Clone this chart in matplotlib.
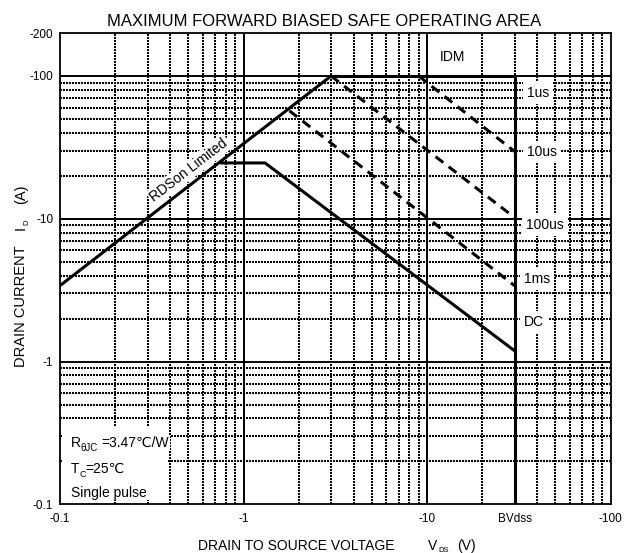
import numpy as np
import matplotlib.pyplot as plt
from matplotlib.patches import Rectangle
from matplotlib.ticker import NullLocator

plt.rcParams['font.family'] = ['Liberation Sans', 'DejaVu Sans']

# ---------------------------------------------------------------
# Curve data (V in volts, I in amps, plotted as magnitudes)
# ---------------------------------------------------------------
v_rds = [0.1, 3.0]
i_rds = [3.4, 100]

v_1us = [3.0, 30, 30]          # IDM limit then BVdss line
i_1us = [100, 100, 0.1]

v_10us = [9.0, 30]
i_10us = [100, 29.6]

v_100us = [3.0, 30]
i_100us = [100, 10.2]

v_1ms = [1.78, 30]
i_1ms = [57, 3.4]

v_dc = [0.76, 1.31, 30]
i_dc = [24.6, 24.6, 1.19]

x_ticks = [0.1, 1, 10, 30, 100]
x_labels = ['-0.1', '-1', '-10', 'BVdss', '-100']
y_ticks = [0.1, 1, 10, 100, 200]
y_labels = ['-0.1', '-1', '-10', '-100', '-200']

curve_labels = ['1us', '10us', '100us', '1ms', 'DC']
label_v = [40.3, 42.5, 44.0, 39.8, 38.4]
label_i = [76.2, 29.4, 9.06, 3.79, 1.90]

W, H = 624, 553
AX_L, AX_R, AX_T, AX_B = 60, 610.5, 33, 504.3


def px(x, y):
    # figure pixel -> figure fraction
    return x / W, 1 - y / H


fig = plt.figure(figsize=(W / 100, H / 100), dpi=100)
ax = fig.add_axes([AX_L / W, 1 - AX_B / H, (AX_R - AX_L) / W, (AX_B - AX_T) / H])
ax.set_xscale('log')
ax.set_yscale('log')
ax.set_xlim(0.1, 100)
ax.set_ylim(0.1, 200)

# grid: dotted minor, solid major
dots = (0, (1, 1.1))
for d in [0.1, 1, 10]:
    for k in range(2, 10):
        ax.axvline(d * k, color='k', lw=1.1, ls=dots, zorder=1, antialiased=False)
        ax.axhline(d * k, color='k', lw=1.1, ls=dots, zorder=1, antialiased=False)
for d in [1, 10]:
    ax.axvline(d, color='k', lw=1.4, zorder=1.5)
for d in [1, 10, 100]:
    ax.axhline(d, color='k', lw=1.4, zorder=1.5)

# curves
lw = 2.2
dash = (0, (3.2, 2.2))
ax.plot(v_rds, i_rds, color='k', lw=lw, zorder=3, solid_capstyle='butt')
ax.plot(v_1us, i_1us, color='k', lw=lw, zorder=3, solid_joinstyle='miter')
ax.plot(v_10us, i_10us, color='k', lw=lw, ls=dash, zorder=3)
ax.plot(v_100us, i_100us, color='k', lw=lw, ls=dash, zorder=3)
ax.plot(v_1ms, i_1ms, color='k', lw=lw, ls=dash, zorder=3)
ax.plot(v_dc, i_dc, color='k', lw=lw, zorder=3, solid_joinstyle='miter')

box = dict(facecolor='white', edgecolor='none', pad=3)
for lab, xv, yv in zip(curve_labels, label_v, label_i):
    ax.text(xv, yv, lab, fontsize=10, ha='center', va='center', bbox=box, zorder=4)
ax.text(13.7, 136, 'IDM', fontsize=10, ha='center', va='center', zorder=4)
ax.text(0.505, 22, 'RDSon Limited', fontsize=10, ha='center', va='center',
        rotation=37.6, rotation_mode='anchor',
        bbox=dict(facecolor='white', edgecolor='none', pad=1.5), zorder=4)

# conditions box, lower left
ax.add_patch(Rectangle(((61.5 - AX_L) / (AX_R - AX_L), (AX_B - 500) / (AX_B - AX_T)),
                       (167 - 61.5) / (AX_R - AX_L), 73 / (AX_B - AX_T),
                       transform=ax.transAxes, facecolor='white', edgecolor='none', zorder=2))
tb = dict(facecolor='white', edgecolor='none', pad=0.5)
fig.text(*px(71, 447), 'R', fontsize=10, va='baseline', bbox=tb)
fig.text(*px(80.5, 451), 'θJC', fontsize=7, va='baseline')
fig.text(*px(101.5, 447), '=3.47℃/W', fontsize=10, va='baseline', bbox=tb)
fig.text(*px(71, 473), 'T', fontsize=10, va='baseline')
fig.text(*px(79.5, 477), 'C', fontsize=6.5, va='baseline')
fig.text(*px(85, 473), '=25℃', fontsize=10, va='baseline')
fig.text(*px(71, 497), 'Single pulse', fontsize=10, va='baseline')

# ticks
ax.set_xticks(x_ticks, x_labels)
ax.set_yticks(y_ticks, y_labels)
ax.xaxis.set_minor_locator(NullLocator())
ax.yaxis.set_minor_locator(NullLocator())
ax.tick_params(axis='both', length=0, labelsize=8.5)
ax.tick_params(axis='x', pad=6)
ax.tick_params(axis='y', pad=4.8)
for s in ax.spines.values():
    s.set_linewidth(1.3)

# title and axis labels
fig.text(*px(324, 25.7), 'MAXIMUM FORWARD BIASED SAFE OPERATING AREA',
         fontsize=12, ha='center', va='baseline')

fig.text(*px(198, 550), 'DRAIN TO SOURCE VOLTAGE', fontsize=10, va='baseline')
fig.text(*px(428, 550), 'V', fontsize=10, va='baseline')
fig.text(*px(438, 552), 'DS', fontsize=5.5, va='baseline')
fig.text(*px(457, 550), '(V)', fontsize=10, va='baseline')

rot = dict(rotation=90, rotation_mode='anchor', va='baseline')
fig.text(*px(25, 306), 'DRAIN CURRENT', fontsize=10.5, ha='center', **rot)
fig.text(*px(25, 230), 'I', fontsize=10.5, ha='left', **rot)
fig.text(*px(28.5, 225), 'D', fontsize=5.5, ha='left', **rot)
fig.text(*px(25, 204), '(A)', fontsize=10.5, ha='left', **rot)

fig.savefig('out.png', dpi=100)
